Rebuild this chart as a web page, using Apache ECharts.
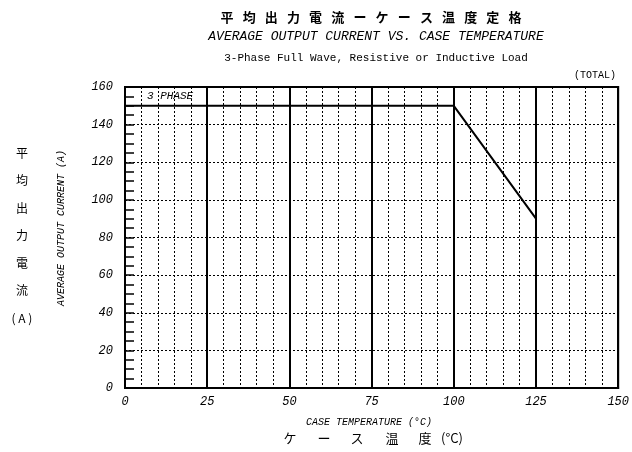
<!DOCTYPE html>
<html><head><meta charset="utf-8">
<script src="https://cdn.jsdelivr.net/npm/echarts@6/dist/echarts.min.js"></script>
<style>html,body{margin:0;padding:0;background:#fff}#c{width:632px;height:452px}</style>
</head><body><div id="c"></div>
<script>
// Data
const temps = [0, 100, 125];
const currents = [150, 150, 90];
const xTicks = [0, 25, 50, 75, 100, 125, 150];
const yTicks = [0, 20, 40, 60, 80, 100, 120, 140, 160];
const titleJa = ['平','均','出','力','電','流','ー','ケ','ー','ス','温','度','定','格'];
const xTitleJa = ['ケ','ー','ス','温','度','(°C)'];
const yTitleJa = ['平','均','出','力','電','流','( A )'];

const MONO = "'Liberation Mono','DejaVu Sans Mono',monospace";
const CJK = "'Noto Sans CJK JP','Noto Sans CJK SC',sans-serif";
const chart = echarts.init(document.getElementById('c'));
const seriesData = temps.map((t, i) => [t, currents[i]]);

function txt(text, x, y, font, align, extra) {
  return Object.assign({type: 'text', x: x, y: y, silent: true,
    style: {text: text, font: font, fill: '#000', textAlign: align || 'center', textVerticalAlign: 'middle'}}, extra || {});
}

const graphics = [
  txt('AVERAGE OUTPUT CURRENT VS. CASE TEMPERATURE', 376, 37, 'italic 13px ' + MONO),
  txt('3-Phase Full Wave, Resistive or Inductive Load', 376, 58, '11px ' + MONO),
  txt('(TOTAL)', 616, 75, '10px ' + MONO, 'right'),
  txt('3 PHASE', 147, 96, 'italic 11px ' + MONO, 'left'),
  txt('CASE TEMPERATURE (°C)', 369, 422, 'italic 10px ' + MONO),
  txt('AVERAGE OUTPUT CURRENT (A)', 61, 228, 'italic 10px ' + MONO, 'center', {rotation: Math.PI / 2})
];
// spread the Japanese title characters evenly (wide letter spacing)
const tStart = 227, tEnd = 515;
titleJa.forEach((ch, i) => {
  graphics.push(txt(ch, tStart + i * (tEnd - tStart) / (titleJa.length - 1), 17, 'bold 13px ' + CJK));
});
const bx = [290, 324, 357, 392, 425, 452];
xTitleJa.forEach((ch, i) => graphics.push(txt(ch, bx[i], 438, '13px ' + CJK)));
yTitleJa.forEach((ch, i) => graphics.push(txt(ch, 22, 153 + i * 27.5, '12px ' + CJK)));

chart.setOption({
  animation: false,
  backgroundColor: '#fff',
  grid: {left: 125, right: 10, top: 87, bottom: 64, show: true, borderColor: '#000', borderWidth: 2},
  xAxis: {
    type: 'value', min: xTicks[0], max: xTicks[xTicks.length - 1], interval: 25,
    axisLine: {show: true, lineStyle: {color: '#000', width: 2}},
    axisTick: {show: false},
    axisLabel: {color: '#000', fontFamily: MONO, fontStyle: 'italic', fontSize: 12, margin: 8},
    splitLine: {show: true, lineStyle: {color: '#000', width: 2}},
    minorTick: {show: false, splitNumber: 5},
    minorSplitLine: {show: true, lineStyle: {color: '#000', width: 1, type: [2, 2]}}
  },
  yAxis: {
    type: 'value', min: yTicks[0], max: yTicks[yTicks.length - 1], interval: 20,
    axisLine: {show: true, lineStyle: {color: '#000', width: 2}},
    axisTick: {show: true, inside: true, length: 9, lineStyle: {color: '#000', width: 1.5}},
    minorTick: {show: true, splitNumber: 4, length: 9, lineStyle: {color: '#000', width: 1.5}},
    axisLabel: {color: '#000', fontFamily: MONO, fontStyle: 'italic', fontSize: 12, margin: 12},
    splitLine: {show: true, lineStyle: {color: '#000', width: 1, type: [2, 2]}}
  },
  series: [{
    type: 'line', data: seriesData, showSymbol: false, symbol: 'none',
    lineStyle: {color: '#000', width: 2}
  }],
  graphic: graphics
});
</script></body></html>
